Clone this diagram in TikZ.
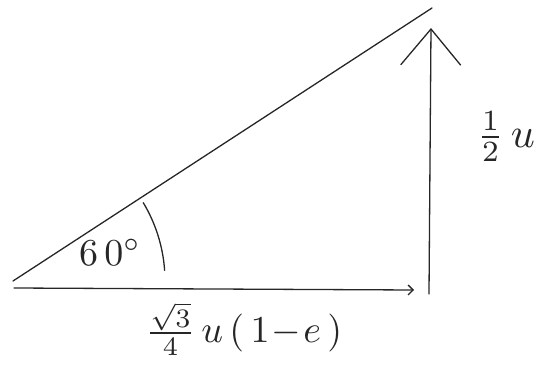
\documentclass[tikz,border=0pt]{standalone}
\usepackage{tikz}
\usepackage{xcolor}
\usepackage{graphicx}
\usetikzlibrary{arrows.meta}

\begin{document}
\begin{tikzpicture}[x=1pt, y=-1pt, line width=1.3pt, line cap=round, every node/.style={inner sep=0pt, text=black!85}]
            \useasboundingbox (0,0) rectangle (547,367);
            \coordinate (o) at (13,281);
            \coordinate (top) at (432,8);
            \coordinate (start) at (14,288);
            \coordinate (end) at (414,290);
            \coordinate (foot) at (429,294);
            \coordinate (tip) at (431,28);
            \node (ang) at (110,252) {\scalebox{3.8}{$6\,0^{\circ}$}};
            \node (side) at (506,137) {\scalebox{4.2}{$\frac{1}{2}\,u$}};
            \node (base) at (244,329) {\scalebox{3.8}{$\frac{\sqrt{3}}{4}\,u\,(\,1\!-\!e\,)$}};

            \draw [black!85] (o) -- (top);
            \draw [black!85, -{Straight Barb[length=5pt, width=10pt]}] (start) -- (end);
            \draw [black!85, -{Straight Barb[length=36pt, width=60pt]}] (foot) -- (tip);
            \draw [black!85] (o) ++(-4:152) arc[start angle=-4, end angle=-31, radius=152];
        \end{tikzpicture}
\end{document}
